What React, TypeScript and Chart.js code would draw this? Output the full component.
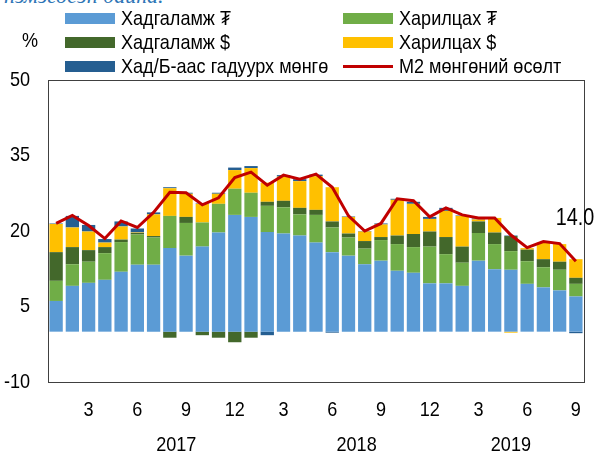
import React, { useEffect, useRef } from "react";
import { Chart, registerables } from "chart.js";
Chart.register(...registerables);

const FONT = "'Liberation Sans', Arial, sans-serif";
const SQUEEZE = 0.86;

const months = [1, 2, 3, 4, 5, 6, 7, 8, 9, 10, 11, 12, 1, 2, 3, 4, 5, 6, 7, 8, 9, 10, 11, 12, 1, 2, 3, 4, 5, 6, 7, 8, 9];
const years = ["2017", "2018", "2019"];

const savingsMNT = [6.1, 9.1, 9.7, 10.3, 11.9, 13.3, 13.3, 16.6, 15.1, 16.9, 19.7, 23.2, 22.8, 19.8, 19.5, 19.1, 17.7, 15.8, 15.1, 13.4, 14.1, 12.1, 11.7, 9.6, 9.6, 9.1, 14.1, 12.4, 12.3, 9.5, 8.8, 8.2, 7.0];
const currentMNT = [4.0, 4.3, 4.2, 5.3, 5.9, 6.0, 5.4, 6.4, 6.5, 4.8, 5.7, 5.2, 4.8, 5.2, 5.2, 4.2, 5.5, 4.9, 3.6, 3.1, 4.1, 5.3, 5.1, 7.3, 5.8, 4.6, 5.5, 5.0, 3.7, 4.5, 4.0, 4.1, 2.5];
const savingsUSD = [5.7, 3.4, 2.3, 1.2, 0.5, 0.3, 0.3, -1.2, 1.2, -0.7, -1.2, -2.1, -1.2, 0.8, 1.3, 1.3, 1.0, 1.2, 0.8, 1.5, 0.6, 1.7, 2.6, 3.0, 3.4, 3.2, 2.3, 2.3, 3.0, 2.3, 1.6, 1.6, 1.2];
const currentUSD = [5.6, 3.9, 3.7, 0.9, 2.6, 0.1, 4.3, 5.5, 4.6, 3.7, 2.0, 3.7, 4.9, 3.8, 4.8, 5.3, 6.7, 6.8, 3.3, 1.9, 2.5, 7.1, 6.0, 2.5, 5.2, 6.1, 0.4, 2.9, -0.2, 0.3, 3.3, 3.5, 3.7];
const cashOutside = [0.1, 2.3, 1.3, 0.7, 1.0, 0.8, 0.4, 0.2, 0.2, 0.1, 0.2, 0.5, 0.4, -0.7, 0.3, 0.4, 0.3, -0.2, 0.1, 0.1, 0.2, 0.2, 0.4, 0.4, 0.6, 0.1, 0.2, 0.0, 0.1, 0.0, 0.0, 0.0, -0.3];
const m2Growth = [21.5, 23.1, 21.1, 18.5, 22.0, 20.7, 23.7, 27.7, 27.6, 25.2, 26.6, 30.6, 31.7, 29.1, 31.1, 30.3, 31.3, 28.7, 23.0, 20.0, 21.5, 26.4, 26.0, 22.8, 24.6, 23.2, 22.6, 22.6, 19.2, 16.7, 17.9, 17.5, 14.0];
const yTicks = [-10, 5, 20, 35, 50];

const legendItems = [
  { label: "Хадгаламж ₮", color: "#5B9BD5", line: false },
  { label: "Харилцах ₮", color: "#70AD47", line: false },
  { label: "Хадгаламж $", color: "#43682B", line: false },
  { label: "Харилцах $", color: "#FFC000", line: false },
  { label: "Хад/Б-аас гадуурх мөнгө", color: "#255E91", line: false },
  { label: "М2 мөнгөний өсөлт", color: "#C00000", line: true },
];

// fractional category positions where year captions sit
const yearPos = [7.4, 18.5, 28.0];

function squeezedText(ctx: CanvasRenderingContext2D, text: string, x: number, y: number, align: CanvasTextAlign) {
  ctx.save();
  ctx.translate(x, y);
  ctx.scale(SQUEEZE, 1);
  ctx.textAlign = align;
  ctx.fillText(text, 0, 0);
  ctx.restore();
}

const overlay = {
  id: "overlay",
  afterDraw(chart: any) {
    const { ctx, chartArea } = chart;
    const xs = chart.scales.x;
    const ys = chart.scales.y;
    ctx.save();
    ctx.strokeStyle = "#404040";
    ctx.lineWidth = 1;
    ctx.strokeRect(Math.round(chartArea.left) + 0.5, Math.round(chartArea.top) + 0.5,
      Math.round(chartArea.right - chartArea.left), Math.round(chartArea.bottom - chartArea.top));
    ctx.fillStyle = "#000";
    ctx.font = `21px ${FONT}`;
    ctx.textBaseline = "middle";
    yTicks.forEach((v) => squeezedText(ctx, String(v), 30, ys.getPixelForValue(v), "right"));
    months.forEach((m, i) => {
      if (m % 3 === 0) squeezedText(ctx, String(m), xs.getPixelForValue(i), 410, "center");
    });
    years.forEach((y, i) => {
      const p = yearPos[i];
      const x0 = xs.getPixelForValue(Math.floor(p));
      const x1 = xs.getPixelForValue(Math.floor(p) + 1);
      const x = x0 + (x1 - x0) * (p - Math.floor(p));
      squeezedText(ctx, y, x, 445, "center");
    });
    const meta = chart.getDatasetMeta(5);
    const last = meta.data[meta.data.length - 1];
    ctx.font = `23px ${FONT}`;
    squeezedText(ctx, m2Growth[m2Growth.length - 1].toFixed(1), last.x - 1, last.y - 43, "center");
    ctx.restore();
  },
};

export default function App() {
  const ref = useRef<HTMLCanvasElement>(null);
  useEffect(() => {
    const bar = (label: string, data: number[], color: string) => ({
      type: "bar" as const,
      label,
      data,
      backgroundColor: color,
      borderWidth: 0,
      stack: "s",
      order: 1,
      categoryPercentage: 1,
      barPercentage: 0.82,
    });
    const chart = new Chart(ref.current!, {
      type: "bar",
      data: {
        labels: months.map(String),
        datasets: [
          bar("Хадгаламж ₮", savingsMNT, "#5B9BD5"),
          bar("Харилцах ₮", currentMNT, "#70AD47"),
          bar("Хадгаламж $", savingsUSD, "#43682B"),
          bar("Харилцах $", currentUSD, "#FFC000"),
          bar("Хад/Б-аас гадуурх мөнгө", cashOutside, "#255E91"),
          {
            type: "line" as const,
            label: "М2 мөнгөний өсөлт",
            data: m2Growth,
            borderColor: "#C00000",
            borderWidth: 3,
            pointRadius: 0,
            tension: 0,
            stack: "line",
            order: 0,
          } as any,
        ],
      },
      options: {
        animation: false,
        responsive: false,
        layout: { padding: { top: 80, right: 14, left: 0, bottom: 0 } },
        plugins: { legend: { display: false }, tooltip: { enabled: false } },
        scales: {
          x: {
            stacked: true,
            grid: { display: false, drawTicks: false },
            border: { display: false },
            ticks: { display: false },
            afterFit: (s: any) => { s.height = 78; },
          },
          y: {
            stacked: true,
            min: -10,
            max: 50,
            afterBuildTicks: (s: any) => { s.ticks = yTicks.map((v) => ({ value: v })); },
            grid: { display: false, drawTicks: false },
            border: { display: false },
            ticks: { display: false },
            afterFit: (s: any) => { s.width = 48; },
          },
        },
      },
      plugins: [overlay],
    } as any);
    return () => chart.destroy();
  }, []);

  const rows = [18, 42, 66];
  const cols = [65, 343];
  return (
    <div style={{ position: "fixed", left: 0, top: 0, width: 598, height: 460, background: "#fff", overflow: "hidden" }}>
      <div style={{ position: "absolute", left: 4, top: -15, fontFamily: "'Liberation Serif', 'Times New Roman', serif", fontStyle: "italic", fontSize: 22, lineHeight: "22px", color: "#2E75B6", whiteSpace: "nowrap" }}>
        нэмэгдсэн байна.
      </div>
      <canvas ref={ref} width={598} height={460} style={{ position: "absolute", left: 0, top: 0 }} />
      <div style={{ position: "absolute", left: 22, top: 28, fontFamily: FONT, fontSize: 21, lineHeight: "24px", color: "#000", transform: `scaleX(${SQUEEZE})`, transformOrigin: "left center" }}>%</div>
      {legendItems.map((it, i) => {
        const x = cols[i % 2];
        const y = rows[Math.floor(i / 2)];
        return (
          <div key={i}>
            <div style={{ position: "absolute", left: x, top: it.line ? y - 1.5 : y - 5.5, width: 50, height: it.line ? 3 : 11, background: it.color }} />
            <div style={{ position: "absolute", left: x + 56, top: y - 12, fontFamily: FONT, fontSize: 21, lineHeight: "24px", color: "#000", whiteSpace: "nowrap", transform: `scaleX(${SQUEEZE})`, transformOrigin: "left center" }}>{it.label}</div>
          </div>
        );
      })}
    </div>
  );
}
